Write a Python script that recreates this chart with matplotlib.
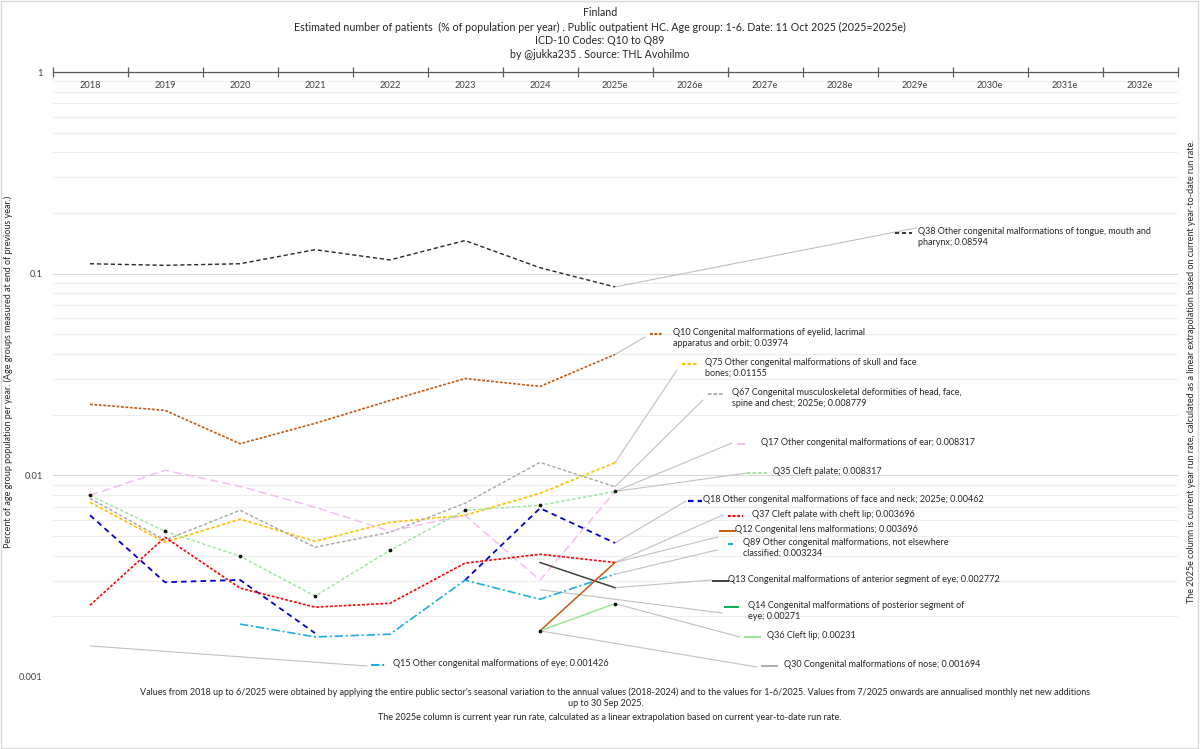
import numpy as np
import matplotlib
matplotlib.use("Agg")
import matplotlib.pyplot as plt
from matplotlib.lines import Line2D
from matplotlib.patches import Rectangle
from matplotlib.ticker import LogLocator, NullFormatter, FuncFormatter, FixedLocator

plt.rcParams['font.family'] = ['Lato', 'DejaVu Sans']
plt.rcParams['lines.scale_dashes'] = False

W, H = 1200, 749

# ------------------------------------------------------------
# Data
# ------------------------------------------------------------
years = ["2018", "2019", "2020", "2021", "2022", "2023", "2024", "2025e",
         "2026e", "2027e", "2028e", "2029e", "2030e", "2031e", "2032e"]
nan = np.nan

q38 = [0.112, 0.110, 0.112, 0.1315, 0.117, 0.146, 0.107, 0.08594]
q10 = [0.0225, 0.0210, 0.01435, 0.0181, 0.0235, 0.0302, 0.0276, 0.03974]
q75 = [0.00735, 0.00466, 0.00606, 0.00471, 0.00585, 0.00634, 0.00814, 0.01155]
q67 = [0.00769, 0.00477, 0.00671, 0.00440, 0.00522, 0.00727, 0.01159, 0.008779]
q17 = [0.00796, 0.01059, 0.00882, 0.00695, 0.00528, 0.00634, 0.00302, 0.008317]
q35 = [0.00796, 0.00528, 0.00397, 0.00252, 0.00425, 0.00671, 0.00710, 0.008317]
q18 = [0.00634, 0.00295, 0.00303, 0.00165, nan, 0.00302, 0.00687, 0.00462]
q37 = [0.00227, 0.00493, 0.00276, 0.00222, 0.00232, 0.00367, 0.00406, 0.003696]
q12 = [nan, nan, nan, nan, nan, nan, 0.001694, 0.003696]
q89 = [nan, nan, 0.00183, 0.00158, 0.00163, 0.00302, 0.00243, 0.003234]
q13 = [nan, nan, nan, nan, nan, nan, 0.003696, 0.002772]
q14 = [nan, nan, nan, nan, nan, nan, 0.00271, nan]
q36 = [nan, nan, nan, nan, nan, nan, 0.001694, 0.00231]
q30 = [nan, nan, nan, nan, nan, nan, 0.001694, nan]
q15 = [0.001426, nan, nan, nan, nan, nan, nan, nan]

labels = {
    "Q38": "Q38 Other congenital malformations of tongue, mouth and\npharynx; 0.08594",
    "Q10": "Q10 Congenital malformations of eyelid, lacrimal\napparatus and orbit; 0.03974",
    "Q75": "Q75 Other congenital malformations of skull and face\nbones; 0.01155",
    "Q67": "Q67 Congenital musculoskeletal deformities of head, face,\nspine and chest; 2025e; 0.008779",
    "Q17": "Q17 Other congenital malformations of ear; 0.008317",
    "Q35": "Q35 Cleft palate; 0.008317",
    "Q18": "Q18 Other congenital malformations of face and neck; 2025e; 0.00462",
    "Q37": "Q37 Cleft palate with cheft lip; 0.003696",
    "Q12": "Q12 Congenital lens malformations; 0.003696",
    "Q89": "Q89 Other congenital malformations, not elsewhere\nclassified; 0.003234",
    "Q13": "Q13 Congenital malformations of anterior segment of eye; 0.002772",
    "Q14": "Q14 Congenital malformations of posterior segment of\neye; 0.00271",
    "Q36": "Q36 Cleft lip; 0.00231",
    "Q30": "Q30 Congenital malformations of nose; 0.001694",
    "Q15": "Q15 Other congenital malformations of eye; 0.001426",
}

# style: values, colour, linestyle, linewidth, markers
series = {
    "Q38": (q38, "#262626", (0, (3, 2)), 1.0, False),
    "Q10": (q10, "#C55A11", (0, (2, 1.2)), 1.2, False),
    "Q75": (q75, "#FFC000", (0, (2.5, 1.5)), 1.2, False),
    "Q67": (q67, "#A6A6A6", (0, (2.5, 1.5)), 1.0, False),
    "Q17": (q17, "#F5B8F2", (0, (6, 3)), 1.0, False),
    "Q35": (q35, "#99E699", (0, (2.5, 1.5)), 1.0, True),
    "Q18": (q18, "#0000CC", (0, (4, 3)), 1.3, False),
    "Q37": (q37, "#FF0000", (0, (2, 1.3)), 1.2, False),
    "Q89": (q89, "#1AADE6", (0, (6, 2, 1.5, 2)), 1.2, False),
    "Q15": (q15, "#1AADE6", (0, (6, 2, 1.5, 2)), 1.2, False),
    "Q13": (q13, "#404040", "-", 1.1, False),
    "Q14": (q14, "#00B050", "-", 1.1, False),
    "Q30": (q30, "#A6A6A6", "-", 1.0, False),
    "Q12": (q12, "#C65911", "-", 1.1, False),
    "Q36": (q36, "#99E699", "-", 1.1, True),
}

# label layout in pixels: (key x0, key x1, text x, first line y, leader end x, leader end y, point index)
label_pos = {
    "Q38": (895, 912, 918, 233, 916, 228, 7),
    "Q10": (650, 663, 673, 334, 645, 337, 7),
    "Q75": (682, 697, 705, 364, 677, 370, 7),
    "Q67": (708, 723, 732, 394, 703, 400, 7),
    "Q17": (737, 748, 761, 444, 732, 443, 7),
    "Q35": (747, 767, 773, 473, 747, 473, 7),
    "Q18": (688, 702, 703, 501, 686, 501, 7),
    "Q37": (728, 743, 752, 516, 723, 515, 7),
    "Q12": (720, 735, 735, 531, 718, 537, 7),
    "Q89": (728, 733, 743, 544, 717, 550, 7),
    "Q13": (713, 728, 728, 581, 712, 580, 7),
    "Q14": (725, 738, 748, 607, 722, 613, 6),
    "Q36": (745, 760, 767, 637, 740, 637, 7),
    "Q30": (762, 777, 784, 666, 757, 667, 6),
    "Q15": (371, 387, 393, 665, 367, 666, 0),
}

title_lines = [
    "Finland",
    "Estimated number of patients  (% of population per year) . Public outpatient HC. Age group: 1-6. Date: 11 Oct 2025 (2025=2025e)",
    "ICD-10 Codes: Q10 to Q89",
    "by @jukka235 . Source: THL Avohilmo",
]
ylabel = "Percent of age group population per year. (Age groups measured at end of previous year.)"
note1 = ("Values from 2018 up to 6/2025 were obtained by applying the entire public sector's seasonal variation "
         "to the annual values (2018-2024) and to the values for 1-6/2025. Values from 7/2025 onwards are "
         "annualised monthly net new additions")
note2 = "up to 30 Sep 2025."
note3 = "The 2025e column is current year run rate, calculated as a linear extrapolation based on current year-to-date run rate."

# ------------------------------------------------------------
# Figure
# ------------------------------------------------------------
fig = plt.figure(figsize=(W / 100, H / 100), dpi=100)
fig.add_artist(Rectangle((0.001, 0.001), 0.997, 0.997, transform=fig.transFigure,
                         fill=False, edgecolor="#d9d9d9", lw=1))

ax_top, ax_bot = 72, 677
ax = fig.add_axes([52.5 / W, 1 - ax_bot / H, 1125 / W, (ax_bot - ax_top) / H])
ax.set_yscale("log")
ax.set_ylim(0.001, 1)
ax.set_xlim(-0.5, len(years) - 0.5)

ax.yaxis.set_major_locator(FixedLocator([0.001, 0.01, 0.1, 1]))
ax.yaxis.set_major_formatter(FuncFormatter(lambda v, p: f"{v:g}"))
ax.yaxis.set_minor_locator(LogLocator(base=10, subs=np.arange(2, 10)))
ax.yaxis.set_minor_formatter(NullFormatter())
ax.tick_params(axis="y", which="both", length=0, pad=7, labelsize=6.7, labelcolor="#404040")
ax.grid(axis="y", which="major", color="#d9d9d9", lw=0.8)
ax.grid(axis="y", which="minor", color="#eeeeee", lw=0.8)

for s in ["left", "right", "bottom"]:
    ax.spines[s].set_visible(False)
ax.spines["top"].set_color("#595959")
ax.spines["top"].set_linewidth(0.9)

ax.xaxis.set_ticks_position("top")
ax.set_xticks(range(len(years)))
ax.set_xticklabels([])
ax.set_xticks(np.arange(-0.5, len(years), 1), minor=True)
ax.tick_params(axis="x", which="major", length=0)
ax.tick_params(axis="x", which="minor", direction="inout", length=7, color="#595959", width=0.9)
for i, yr in enumerate(years):
    ax.text(i, 1 - 13 / (ax_bot - ax_top), yr, transform=ax.get_xaxis_transform(),
            ha="center", va="center", fontsize=6.7, color="#404040")

x = np.arange(len(q38))
for name, (vals, col, ls, lw, mk) in series.items():
    ax.plot(x, vals, color=col, ls=ls, lw=lw, zorder=3)
    if mk:
        ax.plot(x, vals, ls="none", marker="o", ms=1.7, color="#111111", zorder=4)

# labels with leader lines and legend keys
for name, (k0, k1, tx, ty, ex, ey, idx) in label_pos.items():
    vals, col, ls, lw, mk = series[name]
    ax.annotate("", xy=(idx, vals[idx]), xycoords="data",
                xytext=(ex, H - ey), textcoords="figure pixels",
                arrowprops=dict(arrowstyle="-", color="#c0c0c0", lw=0.8, shrinkA=0, shrinkB=0),
                annotation_clip=False, zorder=2)
    fig.add_artist(Line2D([k0 / W, k1 / W], [1 - ty / H, 1 - ty / H], transform=fig.transFigure,
                          color=col, ls=ls, lw=lw + 0.3))
    fig.text(tx / W, 1 - (ty - 6) / H, labels[name], ha="left", va="top",
             fontsize=6.5, color="#262626", linespacing=1.3)

# titles and notes
for t, yy in zip(title_lines, [13, 27, 41, 55]):
    fig.text(0.5, 1 - yy / H, t, ha="center", va="center", fontsize=7.7, color="#262626")

fig.text(8 / W, 1 - 372 / H, ylabel, rotation=90, ha="center", va="center",
         fontsize=6.5, color="#262626")
fig.text(1192 / W, 1 - 371 / H, note3, rotation=90, ha="center", va="center",
         fontsize=6.5, color="#262626")

fig.text(615 / W, 1 - 692 / H, note1, ha="center", va="center", fontsize=6.5, color="#262626")
fig.text(606 / W, 1 - 704 / H, note2, ha="center", va="center", fontsize=6.5, color="#262626")
fig.text(610 / W, 1 - 717 / H, note3, ha="center", va="center", fontsize=6.5, color="#262626")

fig.savefig("out.png", dpi=100)
